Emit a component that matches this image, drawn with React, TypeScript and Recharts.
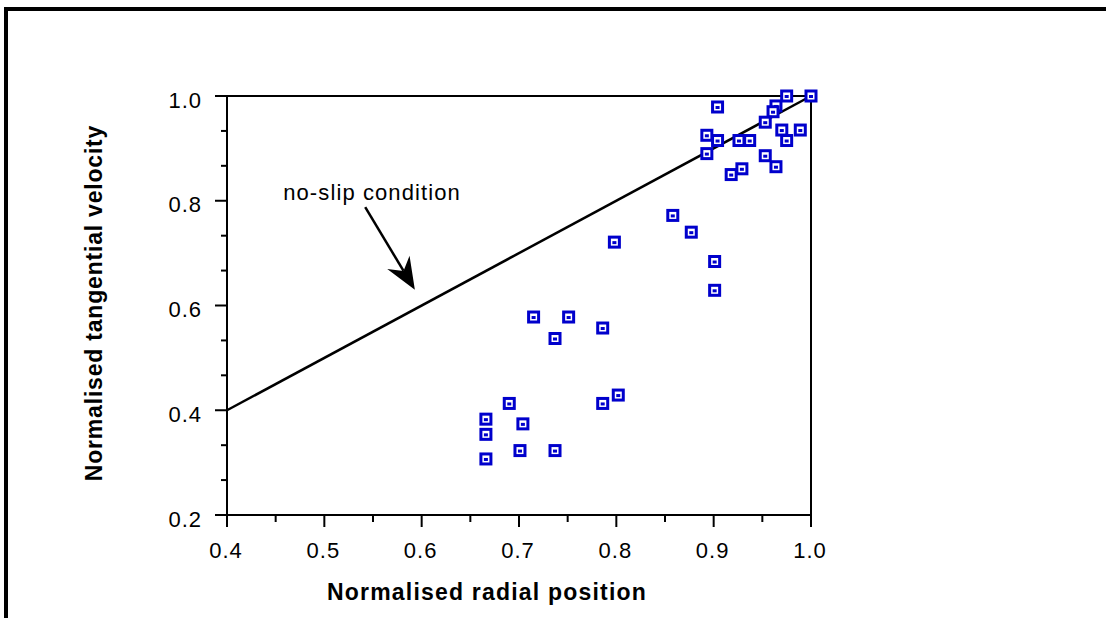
import React from 'react';
import { ScatterChart, Scatter, XAxis, YAxis, ReferenceLine } from 'recharts';

const xTicks = [0.4, 0.45, 0.5, 0.55, 0.6, 0.65, 0.7, 0.75, 0.8, 0.85, 0.9, 0.95, 1.0];
const xMajorTicks = [0.4, 0.5, 0.6, 0.7, 0.8, 0.9, 1.0];
const yTicks = [0.2, 0.2667, 0.3333, 0.4, 0.4667, 0.5333, 0.6, 0.6667, 0.7333, 0.8, 0.8667, 0.9333, 1.0];
const yMajorTicks = [0.2, 0.4, 0.6, 0.8, 1.0];

const radialPosition = [1.0, 0.975, 0.904, 0.964, 0.961, 0.953, 0.893, 0.904, 0.926, 0.937, 0.97, 0.989, 0.975, 0.893, 0.953, 0.964, 0.929, 0.918, 0.858, 0.877, 0.798, 0.901, 0.901, 0.715, 0.751, 0.786, 0.737, 0.802, 0.69, 0.786, 0.666, 0.704, 0.666, 0.701, 0.737, 0.666];
const tangentialVelocity = [1.0, 1.0, 0.979, 0.981, 0.97, 0.95, 0.925, 0.915, 0.915, 0.915, 0.935, 0.935, 0.915, 0.89, 0.886, 0.865, 0.861, 0.85, 0.772, 0.74, 0.721, 0.684, 0.629, 0.578, 0.578, 0.557, 0.537, 0.429, 0.413, 0.413, 0.383, 0.374, 0.354, 0.323, 0.323, 0.307];

const noSlipX = [0.4, 1.0];
const noSlipY = [0.4, 1.0];

const arrowX = [0.542, 0.593];
const arrowY = [0.788, 0.63];
const annotationText = 'no-slip condition';

const xTitle = 'Normalised radial position';
const yTitle = 'Normalised tangential velocity';

const points = radialPosition.map((x, i) => ({ x, y: tangentialVelocity[i] }));

const FONT = '"Liberation Sans", Arial, Helvetica, sans-serif';
const BLUE = '#0000CC';

const isMajor = (list: number[], v: number) => list.some((m) => Math.abs(m - v) < 1e-6);

const XTick = (props: any) => {
  const { x, y, payload } = props;
  const v = payload.value as number;
  const major = isMajor(xMajorTicks, v);
  return (
    <g>
      <line x1={x} y1={y} x2={x} y2={y + (major ? 12 : 7)} stroke="#000" strokeWidth={2} />
      {major && (
        <text x={x - 1} y={y + 43} textAnchor="middle" fontFamily={FONT} fontSize={22} letterSpacing={1} fill="#000">
          {v.toFixed(1)}
        </text>
      )}
    </g>
  );
};

const YTick = (props: any) => {
  const { x, y, payload } = props;
  const v = payload.value as number;
  const major = isMajor(yMajorTicks, v);
  return (
    <g>
      <line x1={x} y1={y} x2={x - (major ? 12 : 6)} y2={y} stroke="#000" strokeWidth={2} />
      {major && (
        <text x={x - 25} y={y + 11.5} textAnchor="end" fontFamily={FONT} fontSize={22} letterSpacing={1} fill="#000">
          {v.toFixed(1)}
        </text>
      )}
    </g>
  );
};

const Marker = (props: any) => {
  const { cx, cy } = props;
  if (cx == null || cy == null) return null;
  return (
    <g>
      <rect x={cx - 5} y={cy - 5} width={10} height={10} fill="#fff" stroke={BLUE} strokeWidth={3} />
      <rect x={cx - 2} y={cy - 1} width={4} height={3} fill={BLUE} />
    </g>
  );
};

const ArrowShape = (props: any) => {
  const { x1, y1, x2, y2 } = props;
  if ([x1, y1, x2, y2].some((v) => v == null || isNaN(v))) return null;
  const dx = x2 - x1;
  const dy = y2 - y1;
  const len = Math.sqrt(dx * dx + dy * dy);
  const ux = dx / len;
  const uy = dy / len;
  const nx = -uy;
  const ny = ux;
  const headLen = 32;
  const half = 13;
  const notch = 22;
  const bx = x2 - ux * headLen;
  const by = y2 - uy * headLen;
  const pts = [
    [x2, y2],
    [bx + nx * half, by + ny * half],
    [x2 - ux * notch, y2 - uy * notch],
    [bx - nx * half, by - ny * half],
  ]
    .map((p) => p.join(','))
    .join(' ');
  return (
    <g>
      <line x1={x1} y1={y1} x2={x2 - ux * notch} y2={y2 - uy * notch} stroke="#000" strokeWidth={2.5} />
      <polygon points={pts} fill="#000" />
      <text x={x1 - 82} y={y1 - 7} fontFamily={FONT} fontSize={22} letterSpacing={1.1} fill="#000">
        {annotationText}
      </text>
    </g>
  );
};

export default function App() {
  return (
    <div style={{ position: 'absolute', left: 0, top: 0, width: 1106, height: 618, overflow: 'hidden', background: '#fff' }}>
      <div
        style={{
          position: 'absolute',
          left: 4,
          top: 7,
          width: 1200,
          height: 700,
          borderLeft: '4px solid #000',
          borderTop: '4px solid #000',
          boxSizing: 'border-box',
        }}
      />
      <div style={{ position: 'absolute', left: 0, top: 0 }}>
        <ScatterChart width={1106} height={618} margin={{ top: 96, right: 295, bottom: 43, left: 167 }}>
          <XAxis
            type="number"
            dataKey="x"
            domain={[0.4, 1.0]}
            ticks={xTicks}
            interval={0}
            height={60}
            tickSize={0}
            tickMargin={0}
            tickLine={false}
            tick={<XTick />}
            axisLine={{ stroke: '#000', strokeWidth: 2 }}
            label={{
              content: () => (
                <text x={487} y={600} textAnchor="middle" fontFamily={FONT} fontSize={23} fontWeight="bold" letterSpacing={1.2} fill="#000">
                  {xTitle}
                </text>
              ),
            }}
          />
          <YAxis
            type="number"
            dataKey="y"
            domain={[0.2, 1.0]}
            ticks={yTicks}
            interval={0}
            width={60}
            tickSize={0}
            tickMargin={0}
            tickLine={false}
            tick={<YTick />}
            axisLine={{ stroke: '#000', strokeWidth: 2 }}
            label={{
              content: () => (
                <text
                  x={102}
                  y={303}
                  transform="rotate(-90, 102, 303)"
                  textAnchor="middle"
                  fontFamily={FONT}
                  fontSize={23}
                  fontWeight="bold"
                  letterSpacing={0.8}
                  fill="#000"
                >
                  {yTitle}
                </text>
              ),
            }}
          />
          <ReferenceLine y={1.0} stroke="#000" strokeWidth={2} />
          <ReferenceLine x={1.0} stroke="#000" strokeWidth={2} />
          <ReferenceLine
            segment={[
              { x: noSlipX[0], y: noSlipY[0] },
              { x: noSlipX[1], y: noSlipY[1] },
            ]}
            stroke="#000"
            strokeWidth={2.5}
          />
          <ReferenceLine
            segment={[
              { x: arrowX[0], y: arrowY[0] },
              { x: arrowX[1], y: arrowY[1] },
            ]}
            shape={ArrowShape}
          />
          <Scatter data={points} shape={<Marker />} isAnimationActive={false} />
        </ScatterChart>
      </div>
    </div>
  );
}
